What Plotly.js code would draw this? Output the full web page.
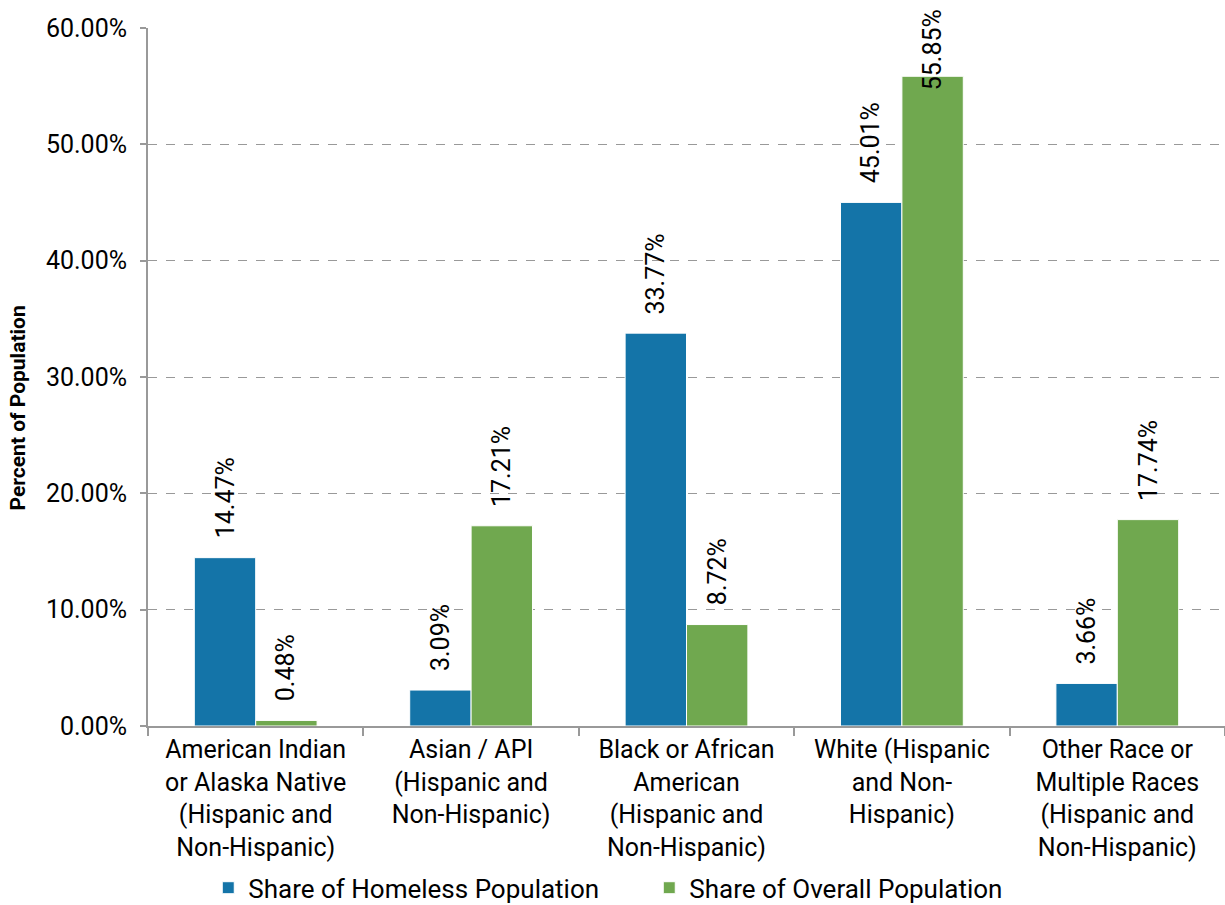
<!DOCTYPE html>
<html>
<head>
<meta charset="utf-8">
<script src="https://cdn.plot.ly/plotly-3.0.1.min.js"></script>
<style>
  html, body { margin: 0; padding: 0; background: #fff; }
  #chart { width: 1225px; height: 905px; }
</style>
</head>
<body>
<div id="chart"></div>
<script>
// Race / ethnicity groups shown along the x axis
const categories = [
  "American Indian<br>or Alaska Native<br>(Hispanic and<br>Non-Hispanic)",
  "Asian / API<br>(Hispanic and<br>Non-Hispanic)",
  "Black or African<br>American<br>(Hispanic and<br>Non-Hispanic)",
  "White (Hispanic<br>and Non-<br>Hispanic)",
  "Other Race or<br>Multiple Races<br>(Hispanic and<br>Non-Hispanic)"
];

// Percent shares per group
const homelessShare = [14.47, 3.09, 33.77, 45.01, 3.66];
const overallShare = [0.48, 17.21, 8.72, 55.85, 17.74];

const seriesNames = ["Share of Homeless Population", "Share of Overall Population"];
const yTickValues = [0, 10, 20, 30, 40, 50, 60];
const yAxisTitle = "Percent of Population";

const BLUE = "#1474a8";
const GREEN = "#70a84f";
const FONT = "Roboto, 'Open Sans', sans-serif";
const FS = 25;

const traces = [
  {
    type: "bar",
    name: seriesNames[0],
    x: categories,
    y: homelessShare,
    marker: { color: BLUE, line: { color: "#ffffff", width: 1 } },
    hoverinfo: "skip"
  },
  {
    type: "bar",
    name: seriesNames[1],
    x: categories,
    y: overallShare,
    marker: { color: GREEN, line: { color: "#ffffff", width: 1 } },
    hoverinfo: "skip"
  }
];

// Rotated value labels above each bar
const annotations = [];
const pairs = [[homelessShare, -30.6], [overallShare, 30.6]];
pairs.forEach(([vals, dx]) => {
  vals.forEach((v, i) => {
    const nearTop = v > 54;
    annotations.push({
      x: categories[i],
      y: v,
      xref: "x",
      yref: "y",
      text: v.toFixed(2) + "%",
      showarrow: false,
      textangle: -90,
      xanchor: "center",
      yanchor: "bottom",
      xshift: dx,
      yshift: nearTop ? -16 : 17,
      font: { family: FONT, size: FS, color: "#000" }
    });
  });
});

// Vertical axis title, set a little below the axis midpoint
annotations.push({
  xref: "paper",
  yref: "paper",
  x: 0,
  y: 0.455,
  xanchor: "center",
  yanchor: "middle",
  xshift: -130,
  text: "<b>" + yAxisTitle + "</b>",
  textangle: -90,
  showarrow: false,
  font: { family: FONT, size: 21, color: "#000" }
});

const layout = {
  width: 1225,
  height: 905,
  paper_bgcolor: "#ffffff",
  plot_bgcolor: "#ffffff",
  margin: { l: 148, r: 0, t: 28, b: 179 },
  font: { family: FONT, size: FS, color: "#000" },
  barmode: "group",
  bargap: 0.43,
  bargroupgap: 0,
  showlegend: true,
  legend: {
    orientation: "h",
    xref: "container",
    yref: "container",
    x: 0.17,
    xanchor: "left",
    y: 0.019,
    yanchor: "middle",
    font: { family: FONT, size: 26, color: "#000" },
    itemwidth: 30,
    entrywidth: 396,
    entrywidthmode: "pixels",
    tracegroupgap: 0
  },
  xaxis: {
    type: "category",
    automargin: false,
    showline: true,
    linecolor: "#999999",
    linewidth: 2,
    ticks: "outside",
    tickson: "boundaries",
    ticklen: 8,
    tickcolor: "#999999",
    tickwidth: 2,
    tickfont: { family: FONT, size: FS, color: "#000" },
    showgrid: false,
    fixedrange: true
  },
  yaxis: {
    automargin: false,
    range: [0, 60],
    tickvals: yTickValues,
    ticktext: yTickValues.map(v => v.toFixed(2) + "%"),
    showline: true,
    linecolor: "#999999",
    linewidth: 2,
    ticks: "outside",
    ticklen: 6,
    tickcolor: "#999999",
    tickwidth: 2,
    ticklabelstandoff: 8,
    tickfont: { family: FONT, size: FS, color: "#000" },
    showgrid: true,
    gridcolor: "#999999",
    gridwidth: 1,
    griddash: "dash",
    zeroline: false,
    fixedrange: true
  },
  annotations: annotations
};

Plotly.newPlot("chart", traces, layout, { displayModeBar: false, staticPlot: true });
</script>
</body>
</html>
